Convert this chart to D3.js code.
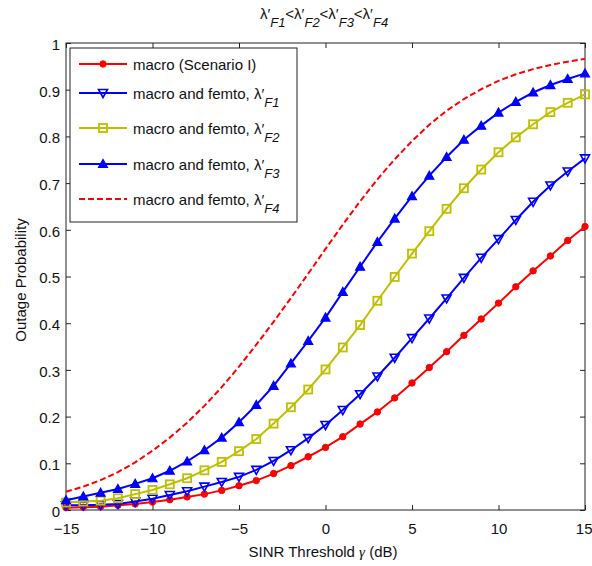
<!DOCTYPE html>
<html>
<head>
<meta charset="utf-8">
<script src="https://cdn.jsdelivr.net/npm/d3@7/dist/d3.min.js"></script>
<style>
  html, body { margin: 0; padding: 0; background: #fff; }
  svg text { font-family: "Liberation Sans", Arial, sans-serif; fill: #111; }
</style>
</head>
<body>
<svg id="chart" width="592" height="566"></svg>
<script>
// SINR threshold in dB
const sinrDb = d3.range(-15, 16, 1);

// Outage probability for each configuration
const macroOnly = [0.005, 0.006, 0.007, 0.010, 0.013, 0.017, 0.022, 0.028, 0.034, 0.042, 0.052, 0.063, 0.078, 0.095, 0.114, 0.134,
  0.157, 0.184, 0.210, 0.240, 0.272, 0.305, 0.339, 0.374, 0.409, 0.443, 0.478, 0.512, 0.544, 0.577, 0.607];
const femtoF1 = [0.010, 0.010, 0.011, 0.013, 0.018, 0.024, 0.032, 0.040, 0.050, 0.060, 0.071, 0.086, 0.105, 0.128, 0.154, 0.182,
  0.214, 0.248, 0.286, 0.326, 0.368, 0.410, 0.453, 0.497, 0.540, 0.580, 0.621, 0.660, 0.695, 0.725, 0.753];
const femtoF2 = [0.016, 0.018, 0.020, 0.025, 0.034, 0.043, 0.055, 0.068, 0.085, 0.103, 0.126, 0.152, 0.185, 0.220, 0.258, 0.301,
  0.348, 0.396, 0.448, 0.499, 0.549, 0.597, 0.645, 0.689, 0.729, 0.766, 0.798, 0.826, 0.852, 0.872, 0.890];
const femtoF3 = [0.021, 0.029, 0.037, 0.045, 0.056, 0.068, 0.084, 0.104, 0.128, 0.155, 0.188, 0.225, 0.266, 0.314, 0.362, 0.412,
  0.467, 0.521, 0.574, 0.624, 0.672, 0.716, 0.756, 0.793, 0.823, 0.851, 0.874, 0.894, 0.910, 0.923, 0.935];
const femtoF4 = [0.039, 0.050, 0.064, 0.081, 0.102, 0.127, 0.155, 0.187, 0.223, 0.263, 0.307, 0.354, 0.403, 0.454, 0.506, 0.559,
  0.611, 0.661, 0.708, 0.751, 0.790, 0.825, 0.855, 0.880, 0.901, 0.919, 0.933, 0.944, 0.953, 0.960, 0.966];

const xTicks = [-15, -10, -5, 0, 5, 10, 15];
const yTicks = [0, 0.1, 0.2, 0.3, 0.4, 0.5, 0.6, 0.7, 0.8, 0.9, 1];
const yTickLabels = ["0", "0.1", "0.2", "0.3", "0.4", "0.5", "0.6", "0.7", "0.8", "0.9", "1"];

const seriesDefs = [
  { label: "macro (Scenario I)", sub: null, values: macroOnly, color: "#ff0000", marker: "dot", dash: null },
  { label: "macro and femto, λ′", sub: "F1", values: femtoF1, color: "#0000ff", marker: "down", dash: null },
  { label: "macro and femto, λ′", sub: "F2", values: femtoF2, color: "#bfbf00", marker: "square", dash: null },
  { label: "macro and femto, λ′", sub: "F3", values: femtoF3, color: "#0000ff", marker: "up", dash: null },
  { label: "macro and femto, λ′", sub: "F4", values: femtoF4, color: "#ff0000", marker: null, dash: "6,3" }
];

const plot = { left: 66, right: 585, top: 43, bottom: 510 };
const svg = d3.select("#chart");

const x = d3.scaleLinear().domain([-15, 15]).range([plot.left, plot.right]);
const y = d3.scaleLinear().domain([0, 1]).range([plot.bottom, plot.top]);

const axisColor = "#222";
const tickLen = 5;

// Plot frame
svg.append("rect")
  .attr("x", plot.left).attr("y", plot.top)
  .attr("width", plot.right - plot.left).attr("height", plot.bottom - plot.top)
  .attr("fill", "none").attr("stroke", axisColor).attr("stroke-width", 1);

// Inward ticks on all four sides, drawn with d3 axes
const xb = svg.append("g").attr("transform", `translate(0,${plot.bottom})`)
  .call(d3.axisBottom(x).tickValues(xTicks).tickSizeInner(-tickLen).tickSizeOuter(0).tickPadding(13)
    .tickFormat(d3.format("d")));
const xt = svg.append("g").attr("transform", `translate(0,${plot.top})`)
  .call(d3.axisTop(x).tickValues(xTicks).tickSizeInner(-tickLen).tickSizeOuter(0).tickFormat(""));
const yl = svg.append("g").attr("transform", `translate(${plot.left},0)`)
  .call(d3.axisLeft(y).tickValues(yTicks).tickSizeInner(-tickLen).tickSizeOuter(0).tickPadding(6)
    .tickFormat((d, i) => yTickLabels[i]));
const yr = svg.append("g").attr("transform", `translate(${plot.right},0)`)
  .call(d3.axisRight(y).tickValues(yTicks).tickSizeInner(-tickLen).tickSizeOuter(0).tickFormat(""));

[xb, xt, yl, yr].forEach(g => {
  g.select(".domain").remove();
  g.selectAll(".tick line").attr("stroke", axisColor);
  g.selectAll(".tick text").attr("font-size", 15).attr("fill", "#111")
    .style("font-family", "'Liberation Sans', Arial, sans-serif");
});
yl.selectAll(".tick text").attr("dy", "0.42em");
// keep the rightmost label inside the page
xb.selectAll(".tick text").filter(d => d === 15).attr("text-anchor", "end").attr("dx", 7);

// Axis titles
const xTitle = svg.append("text").attr("x", 323).attr("y", 557).attr("text-anchor", "middle").attr("font-size", 15);
xTitle.append("tspan").text("SINR Threshold ");
xTitle.append("tspan").attr("font-style", "italic").attr("font-family", "'Liberation Serif', serif").text("γ");
xTitle.append("tspan").text(" (dB)");

svg.append("text")
  .attr("transform", `translate(26,280) rotate(-90)`)
  .attr("text-anchor", "middle").attr("font-size", 15).text("Outage Probability");

// Title: ordering of femto densities
const title = svg.append("text").attr("x", 324).attr("y", 19).attr("text-anchor", "middle").attr("font-size", 15);
["F1", "F2", "F3", "F4"].forEach((s, i) => {
  title.append("tspan").attr("dy", i === 0 ? 0 : -8).text((i === 0 ? "" : "<") + "λ′");
  title.append("tspan").attr("dy", 8).attr("font-size", 13).attr("font-style", "italic").text(s);
});

// Marker shapes
function drawMarker(g, type, color, cx, cy) {
  if (type === "dot") {
    g.append("circle").attr("cx", cx).attr("cy", cy).attr("r", 3.2).attr("fill", color).attr("stroke", color).attr("stroke-width", 1);
  } else if (type === "down") {
    g.append("path").attr("d", `M${cx - 4.5},${cy - 3.5} L${cx + 4.5},${cy - 3.5} L${cx},${cy + 4.5} Z`)
      .attr("fill", "none").attr("stroke", color).attr("stroke-width", 1.6);
  } else if (type === "up") {
    g.append("path").attr("d", `M${cx - 4.5},${cy + 3.5} L${cx + 4.5},${cy + 3.5} L${cx},${cy - 4.5} Z`)
      .attr("fill", color).attr("stroke", color).attr("stroke-width", 1.2);
  } else if (type === "square") {
    g.append("rect").attr("x", cx - 4).attr("y", cy - 4).attr("width", 8).attr("height", 8)
      .attr("fill", "none").attr("stroke", color).attr("stroke-width", 1.8);
  }
}

const line = d3.line().x((d, i) => x(sinrDb[i])).y(d => y(d));
const curves = svg.append("g");
seriesDefs.forEach(s => {
  const g = curves.append("g");
  g.append("path").datum(s.values).attr("d", line)
    .attr("fill", "none").attr("stroke", s.color).attr("stroke-width", 2)
    .attr("stroke-dasharray", s.dash);
  if (s.marker) {
    s.values.forEach((v, i) => drawMarker(g, s.marker, s.color, x(sinrDb[i]), y(v)));
  }
});

// Legend
const legend = svg.append("g");
legend.append("rect").attr("x", 70).attr("y", 48).attr("width", 227).attr("height", 174)
  .attr("fill", "#fff").attr("stroke", axisColor).attr("stroke-width", 1);
const rowY = [64, 93, 128, 164, 199];
seriesDefs.forEach((s, i) => {
  const ly = rowY[i];
  legend.append("line").attr("x1", 79).attr("x2", 127).attr("y1", ly).attr("y2", ly)
    .attr("stroke", s.color).attr("stroke-width", 2).attr("stroke-dasharray", s.dash);
  if (s.marker) drawMarker(legend, s.marker, s.color, 103, ly);
  const t = legend.append("text").attr("x", 133).attr("y", ly + 6).attr("font-size", 15);
  t.append("tspan").text(s.label);
  if (s.sub) t.append("tspan").attr("dy", 8).attr("font-size", 13).attr("font-style", "italic").text(s.sub);
});
</script>
</body>
</html>
